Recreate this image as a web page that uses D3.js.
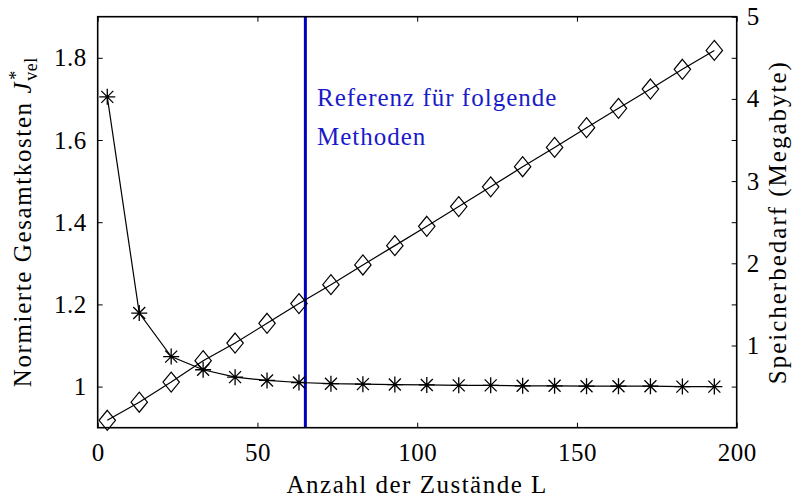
<!DOCTYPE html>
<html><head><meta charset="utf-8">
<script src="https://cdn.jsdelivr.net/npm/d3@7"></script>
<style>
html,body{margin:0;padding:0;background:#fff;}
svg{display:block;}
text{font-family:"Liberation Serif","Times New Roman",serif;}
</style></head>
<body><svg id="c" width="793" height="498"></svg>
<script>
const L = [3,13,23,33,43,53,63,73,83,93,103,113,123,133,143,153,163,173,183,193];
const kosten = [1.705,1.179,1.073,1.041,1.023,1.015,1.010,1.007,1.006,1.005,1.004,1.003,1.003,1.002,1.002,1.001,1.001,1.001,1.000,1.000];
const speicher = [0.09,0.31,0.555,0.815,1.03,1.27,1.51,1.74,1.98,2.215,2.45,2.69,2.93,3.175,3.41,3.65,3.885,4.12,4.36,4.59];
const refL = 65;
const xTicks = [0,50,100,150,200];
const yLTicks = [1,1.2,1.4,1.6,1.8];
const yRTicks = [0.5,1,1.5,2,2.5,3,3.5,4,4.5,5];
const refText = ["Referenz für folgende","Methoden"];

const svg = d3.select("#c");
const X0=97.7, X1=736.7, Y0=16.7, Y1=427.7;
const x = d3.scaleLinear().domain([0,200]).range([X0,X1]);
const yL = d3.scaleLinear().domain([0.9,1.9]).range([Y1,Y0]);
const yR = d3.scaleLinear().domain([0,5]).range([Y1,Y0]);
const FS = 25;
const FONT = "Liberation Serif";
const fmt = d => (Number.isInteger(d) ? d3.format("d")(d) : d3.format(".1f")(d));

function styleAxis(g){
  g.select(".domain").remove();
  g.selectAll(".tick line").attr("stroke","#000").attr("stroke-width",1);
  g.selectAll(".tick text").attr("fill","#000").style("font-family",FONT).style("font-size",FS+"px").style("letter-spacing","0.5px");
}

svg.append("g").attr("transform",`translate(0,${Y1})`)
  .call(d3.axisBottom(x).tickValues(xTicks).tickSize(-5).tickPadding(15.5).tickFormat(d3.format("d"))).call(styleAxis);
svg.append("g").attr("transform",`translate(0,${Y0})`)
  .call(d3.axisTop(x).tickValues(xTicks).tickSize(-5).tickFormat("")).call(styleAxis);
svg.append("g").attr("transform",`translate(${X0},0)`)
  .call(d3.axisLeft(yL).tickValues(yLTicks).tickSize(-5).tickPadding(11).tickFormat(fmt)).call(styleAxis);
svg.append("g").attr("transform",`translate(${X1},0)`)
  .call(d3.axisRight(yR).tickValues(yRTicks).tickSize(-5).tickPadding(10).tickFormat(d => Number.isInteger(d)? d : "")).call(styleAxis);

// reference line
svg.append("line").attr("x1",x(refL)).attr("x2",x(refL)).attr("y1",Y0).attr("y2",Y1)
  .attr("stroke","#0000c0").attr("stroke-width",3);

// lines
const lineL = d3.line().x((d,i)=>x(L[i])).y(d=>yL(d));
const lineR = d3.line().x((d,i)=>x(L[i])).y(d=>yR(d));
svg.append("path").attr("d",lineL(kosten)).attr("fill","none").attr("stroke","#000").attr("stroke-width",1.2);
svg.append("path").attr("d",lineR(speicher)).attr("fill","none").attr("stroke","#000").attr("stroke-width",1.2);

// star markers
const s = 8, sd = 6;
const starPath = `M0,${-s}L0,${s}M${-s},0L${s},0M${-sd},${-sd}L${sd},${sd}M${-sd},${sd}L${sd},${-sd}`;
svg.append("g").selectAll("path").data(kosten).join("path")
  .attr("transform",(d,i)=>`translate(${x(L[i])},${yL(d)})`)
  .attr("d",starPath).attr("stroke","#000").attr("stroke-width",1.3).attr("fill","none");
// diamond markers
const dw=8.2, dh=10;
const diaPath = `M0,${-dh}L${dw},0L0,${dh}L${-dw},0Z`;
svg.append("g").selectAll("path").data(speicher).join("path")
  .attr("transform",(d,i)=>`translate(${x(L[i])},${yR(d)})`)
  .attr("d",diaPath).attr("stroke","#000").attr("stroke-width",1.2).attr("fill","none");

// box
svg.append("rect").attr("x",X0).attr("y",Y0).attr("width",X1-X0).attr("height",Y1-Y0)
  .attr("fill","none").attr("stroke","#000").attr("stroke-width",1.6);

// reference text
svg.append("g").selectAll("text").data(refText).join("text")
  .attr("x",317).attr("y",(d,i)=>106+i*39).attr("fill","#1a1ac8")
  .style("font-size",FS+"px").style("letter-spacing","1px").text(d=>d);

// x title
svg.append("text").attr("x",(X0+X1)/2).attr("y",493).attr("text-anchor","middle")
  .style("font-size",FS+"px").style("letter-spacing","1.5px").text("Anzahl der Zustände L");

// right title
svg.append("text").attr("transform",`translate(786,${(Y0+Y1)/2}) rotate(-90)`).attr("text-anchor","middle")
  .style("font-size",FS+"px").style("letter-spacing","2px").text("Speicherbedarf (Megabyte)");

// left title with J*_vel
const lg = svg.append("g");
const lt = lg.append("text").style("font-size",FS+"px").style("letter-spacing","1.6px");
lt.append("tspan").text("Normierte Gesamtkosten ");
lt.append("tspan").style("font-style","italic").text("J");
const mainW = lt.node().getComputedTextLength();
const sup = lg.append("text").attr("x",mainW+1).attr("y",-9).style("font-size","18px").text("*");
const sub = lg.append("text").attr("x",mainW).attr("y",6).style("font-size","18px").style("letter-spacing","0.5px").text("vel");
const totalW = mainW + sub.node().getComputedTextLength();
lg.attr("transform",`translate(31,${(Y0+Y1)/2 + totalW/2}) rotate(-90)`);
</script></body></html>
